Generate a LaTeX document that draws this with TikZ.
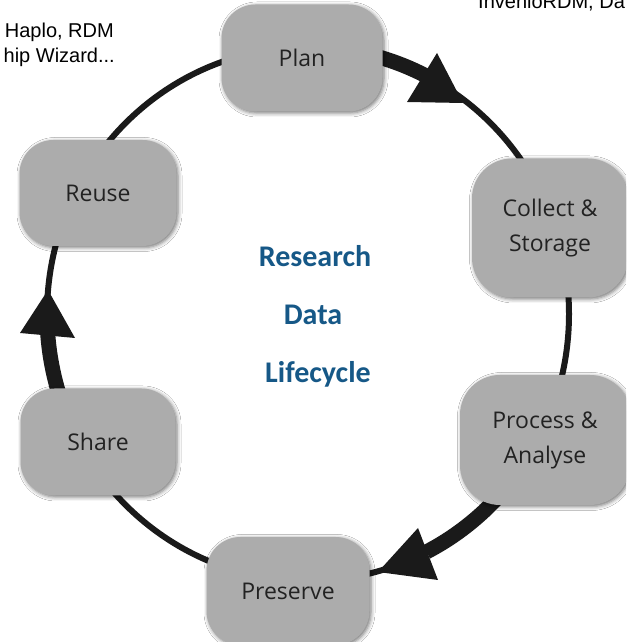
\documentclass[tikz,border=0pt]{standalone}
\usepackage{fontspec}
\setmainfont{Open Sans}
\newfontfamily\calib{Carlito}
\newfontfamily\arialf{Liberation Sans}
\usetikzlibrary{shadows.blur,backgrounds}
\definecolor{boxgray}{RGB}{172,172,172}
\definecolor{boxtext}{RGB}{34,34,34}
\definecolor{titleblue}{RGB}{22,88,135}
\definecolor{ringblack}{RGB}{26,26,26}
\begin{document}
\begin{tikzpicture}[x=1pt,y=1pt,
  stage/.style={draw=none, fill=boxgray, rounded corners=34pt, inner sep=0pt,
    align=center, text=boxtext, font=\fontsize{23}{35}\selectfont,
    blur shadow={shadow xshift=1.5pt, shadow yshift=-1.5pt, shadow blur radius=4pt, shadow opacity=55}},
  titletext/.style={font=\calib\bfseries\fontsize{30}{36}\selectfont, text=titleblue, anchor=base, inner sep=0pt},
  cornertext/.style={font=\arialf\fontsize{20}{25}\selectfont, text=black, inner sep=0pt},
  ring/.style={draw=ringblack, line width=6pt},
  shaft/.style={draw=ringblack, line width=15pt},
  head/.style={fill=ringblack}]
\useasboundingbox (0,0) rectangle (626,642);
\clip (0,0) rectangle (626,642);

% stages
\node[stage, minimum width=161pt, minimum height=107pt] (plan) at (302,584) {Plan};
\node[stage, minimum width=157pt, minimum height=106pt] (reuse) at (98,449) {Reuse};
\node[stage, rounded corners=40pt, minimum width=156pt, minimum height=139pt] (collect) at (550,414) {Collect \&\\Storage};
\node[stage, rounded corners=40pt, minimum width=170pt, minimum height=130pt] (process) at (545,202) {Process \&\\Analyse};
\node[stage, minimum width=155pt, minimum height=107pt] (share) at (98,200) {Share};
\node[stage, minimum width=163pt, minimum height=108pt] (preserve) at (288,51) {Preserve};

% title
\node[titletext] (t-research) at (315,375) {Research};
\node[titletext] (t-data) at (313,317) {Data};
\node[titletext] (t-life) at (318,259) {Lifecycle};

% corner fragments
\node[cornertext, anchor=base east] (c1) at (114,604) {Haplo, RDM};
\node[cornertext, anchor=base east] (c2) at (115,579) {hip Wizard...};
\node[cornertext, anchor=base west] (c3) at (478,633) {InvenioRDM, Da};

% the cycle ring and arrows
\begin{scope}[on background layer]
\fill[white] (0,0) rectangle (626,642);
\coordinate (c) at (308,328);
\draw[ring] (c) ellipse [x radius=261, y radius=267];
% Plan -> Collect
\draw[shaft] ([shift={(76:261 and 267)}]c) arc[start angle=76, end angle=62, x radius=261, y radius=267];
\fill[head] (407,540) -- (437,589) -- (463,539) -- cycle;
% Process -> Preserve
\draw[shaft] ([shift={(-40:261 and 267)}]c) arc[start angle=-40, end angle=-63, x radius=261, y radius=267];
\fill[head] (418,114) -- (438,62) -- (378,70) -- cycle;
% Share -> Reuse
\draw[shaft] ([shift={(200:261 and 267)}]c) arc[start angle=200, end angle=184, x radius=261, y radius=267];
\fill[head] (48,352) -- (20,309) -- (75,304) -- cycle;
\end{scope}
\end{tikzpicture}
\end{document}
